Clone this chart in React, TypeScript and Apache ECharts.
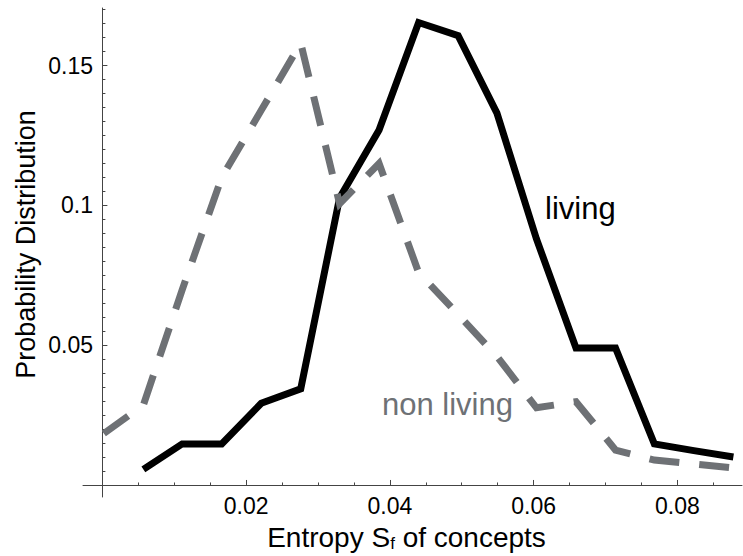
import React, { useEffect, useRef } from "react";
import * as echarts from "echarts";

// Bin centres of the entropy histogram (shared by both curves)
const binCenters = [
  0.0002, 0.0057, 0.0111, 0.0166, 0.0221, 0.0276, 0.033, 0.0385, 0.044,
  0.0495, 0.0549, 0.0604, 0.0659, 0.0714, 0.0768, 0.0823, 0.0878,
];
// "living" concepts (solid black); first bin has no point
const livingValues: (number | null)[] = [
  null, 0.0056, 0.0147, 0.0147, 0.0292, 0.0344, 0.1026, 0.127, 0.1654,
  0.1607, 0.133, 0.088, 0.049, 0.049, 0.0147, 0.0123, 0.01,
];
// "non living" concepts (dashed grey)
const nonLivingValues: number[] = [
  0.0184, 0.0286, 0.0698, 0.11, 0.134, 0.158, 0.1006, 0.115, 0.076, 0.061,
  0.046, 0.0276, 0.0298, 0.0125, 0.0089, 0.0075, 0.0061,
];

const xMajorTicks = [0.02, 0.04, 0.06, 0.08];
const xMinorTicks = [
  0.005, 0.01, 0.015, 0.025, 0.03, 0.035, 0.045, 0.05, 0.055, 0.065, 0.07,
  0.075, 0.085,
];
const yMajorTicks = [0.05, 0.1, 0.15];
const yMinorTicks = [
  0.005, 0.01, 0.015, 0.02, 0.025, 0.03, 0.035, 0.04, 0.045, 0.055, 0.06,
  0.065, 0.07, 0.075, 0.08, 0.085, 0.09, 0.095, 0.105, 0.11, 0.115, 0.12,
  0.125, 0.13, 0.135, 0.14, 0.145, 0.155, 0.16, 0.165, 0.17,
];

const X_MIN = -0.0027;
const X_MAX = 0.089;
const Y_MIN = -0.0043;
const Y_MAX = 0.1706;

const FONT = '"Liberation Sans", Arial, sans-serif';
const AXIS_COLOR = "#444";
const GREY = "#6e7175";

const fmt = (v: number) => String(+Number(v).toFixed(4));

export default function App() {
  const ref = useRef<HTMLDivElement>(null);

  useEffect(() => {
    if (!ref.current) return;
    const chart = echarts.init(ref.current, undefined, { renderer: "svg" });

    const living = binCenters.map((x, i) => [x, livingValues[i]]).filter((d) => d[1] != null);
    const nonLiving = binCenters.map((x, i) => [x, nonLivingValues[i]]);

    const baseX = {
      type: "value",
      min: X_MIN,
      max: X_MAX,
      position: "bottom",
      splitLine: { show: false },
    };
    const baseY = {
      type: "value",
      min: Y_MIN,
      max: Y_MAX,
      position: "left",
      splitLine: { show: false },
    };

    chart.setOption({
      animation: false,
      backgroundColor: "#ffffff",
      grid: {
        left: 83,
        top: 8,
        width: 659,
        height: 489,
        containLabel: false,
        outerBoundsMode: "none",
      },
      xAxis: [
        {
          ...baseX,
          axisLine: { show: true, onZero: true, onZeroAxisIndex: 0, lineStyle: { color: AXIS_COLOR, width: 1 } },
          axisTick: { show: true, inside: true, length: 5, customValues: xMajorTicks, lineStyle: { color: AXIS_COLOR } },
          axisLabel: {
            show: true,
            customValues: xMajorTicks,
            formatter: fmt,
            margin: -3,
            color: "#000",
            fontSize: 23,
            fontFamily: FONT,
          },
          name: "Entropy S{sub|f} of concepts",
          nameLocation: "middle",
          nameGap: 26,
          nameMoveOverlap: false,
          nameTextStyle: {
            color: "#000",
            fontSize: 28,
            fontFamily: FONT,
            padding: [0, 12, 0, 0],
            rich: {
              sub: { fontSize: 17, fontFamily: FONT, color: "#000", padding: [12, 0, 0, 0] },
            },
          },
        },
        {
          ...baseX,
          axisLine: { show: false, onZero: true, onZeroAxisIndex: 1 },
          axisTick: { show: true, inside: true, length: 2.5, customValues: xMinorTicks, lineStyle: { color: AXIS_COLOR } },
          axisLabel: { show: false },
        },
      ],
      yAxis: [
        {
          ...baseY,
          axisLine: { show: true, onZero: true, onZeroAxisIndex: 0, lineStyle: { color: AXIS_COLOR, width: 1 } },
          axisTick: { show: true, inside: true, length: 5, customValues: yMajorTicks, lineStyle: { color: AXIS_COLOR } },
          axisLabel: {
            show: true,
            customValues: yMajorTicks,
            formatter: fmt,
            margin: -10,
            color: "#000",
            fontSize: 23,
            fontFamily: FONT,
          },
          name: "Probability Distribution",
          nameLocation: "middle",
          nameGap: 44,
          nameMoveOverlap: false,
          nameTextStyle: { color: "#000", fontSize: 27, fontFamily: FONT, padding: [0, 0, 0, 16] },
        },
        {
          ...baseY,
          axisLine: { show: false, onZero: true, onZeroAxisIndex: 1 },
          axisTick: { show: true, inside: true, length: 3, customValues: yMinorTicks, lineStyle: { color: AXIS_COLOR } },
          axisLabel: { show: false },
        },
      ],
      series: [
        {
          name: "living",
          type: "line",
          xAxisIndex: 0,
          yAxisIndex: 0,
          data: living,
          showSymbol: false,
          symbol: "none",
          lineStyle: { color: "#000", width: 7, join: "miter", cap: "butt" },
          z: 2,
        },
        {
          name: "non living",
          type: "line",
          xAxisIndex: 0,
          yAxisIndex: 0,
          data: nonLiving,
          showSymbol: false,
          symbol: "none",
          lineStyle: { color: GREY, width: 7, type: [30, 20], join: "miter", cap: "butt" },
          z: 3,
        },
      ],
      graphic: [
        {
          type: "text",
          x: 545,
          y: 208,
          style: {
            text: "living",
            fill: "#000",
            font: `31px ${FONT}`,
            textAlign: "left",
            textVerticalAlign: "middle",
          },
        },
        {
          type: "text",
          x: 382,
          y: 404,
          style: {
            text: "non living",
            fill: GREY,
            font: `31px ${FONT}`,
            textAlign: "left",
            textVerticalAlign: "middle",
          },
        },
      ],
    });

    return () => chart.dispose();
  }, []);

  return (
    <div
      ref={ref}
      style={{ position: "absolute", left: 0, top: 0, width: 743, height: 556 }}
    />
  );
}
